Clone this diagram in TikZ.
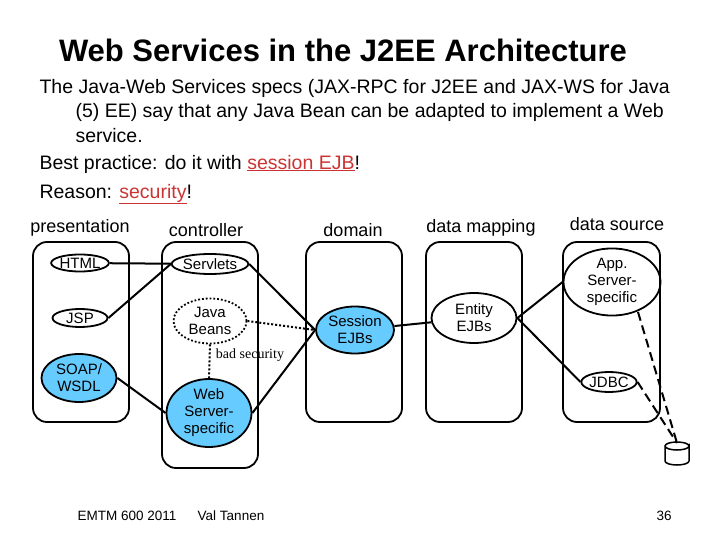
\documentclass[tikz,border=0pt]{standalone}
\usepackage{fontspec}
\setmainfont{Liberation Sans}
\newfontfamily\serifx{Liberation Serif}
\usetikzlibrary{shapes.geometric}
\definecolor{fillb}{HTML}{66CCFF}
\definecolor{redt}{HTML}{CC3333}
\begin{document}
\begin{tikzpicture}[x=1pt,y=-1pt,
  box/.style={draw,line width=1.8pt,rounded corners=14pt},
  el/.style={draw,ellipse,line width=1.8pt,inner sep=0pt,align=center,font=\fontsize{15}{17}\selectfont},
  lbl/.style={font=\fontsize{18}{20}\selectfont},
  con/.style={line width=2pt},
  foot/.style={anchor=base,font=\fontsize{13.5}{16}\selectfont},
  body/.style={anchor=west,font=\fontsize{19.5}{22}\selectfont}]
\useasboundingbox (0,0) rectangle (720,540);
\node[font=\bfseries\fontsize{31}{34}\selectfont] (title) at (343,50) {Web Services in the J2EE Architecture};
\node[body] (t1) at (36,88) {The Java-Web Services specs (JAX-RPC for J2EE and JAX-WS for Java};
\node[body] (t2) at (72,112) {(5) EE) say that any Java Bean can be adapted to implement a Web};
\node[body] (t3) at (72,136) {service.};
\node[body] (t4) at (36,164) {Best practice: do it with {\color{redt}\underline{session EJB}}!};
\node[body] (t5) at (36,194) {Reason: {\color{redt}\underline{security}}!};
% boxes
\draw[box] (33,242) rectangle (129,422);
\draw[box] (162,242) rectangle (258,468);
\draw[box] (306,242) rectangle (402,422);
\draw[box] (426,242) rectangle (522,422);
\draw[box] (563,242) rectangle (660,422);
\node[lbl] (lp) at (80,228) {presentation};
\node[lbl] (lc) at (206,230) {controller};
\node[lbl] (ld) at (353,230) {domain};
\node[lbl] (lm) at (481,228) {data mapping};
\node[lbl] (ls) at (617,224) {data source};
% ellipses
\node[el,minimum width=55pt,minimum height=17pt] (html) at (80,263) {HTML};
\node[el,minimum width=75pt,minimum height=20pt] (serv) at (210,264) {Servlets};
\node[el,minimum width=55pt,minimum height=18pt] (jsp) at (80,318) {JSP};
\node[el,dotted,minimum width=73pt,minimum height=45pt] (jb) at (210,321) {Java\\Beans};
\node[el,fill=fillb,minimum width=75pt,minimum height=48pt] (soap) at (79,378) {SOAP/\\WSDL};
\node[el,fill=fillb,minimum width=85pt,minimum height=68pt] (ws) at (209,413) {Web\\Server-\\specific};
\node[el,fill=fillb,minimum width=78pt,minimum height=47pt] (sess) at (355,330) {Session\\EJBs};
\node[el,minimum width=85pt,minimum height=50pt] (ent) at (474,318) {Entity\\EJBs};
\node[el,minimum width=97pt,minimum height=67pt] (app) at (612,282) {App.\\Server-\\specific};
\node[el,minimum width=55pt,minimum height=20pt] (jdbc) at (609,382) {JDBC};
\coordinate (db) at (677,443);
\draw[line width=1.5pt] (665,446) -- (665,461) arc[start angle=180,end angle=360,x radius=12,y radius=-4] -- (689,446)
  arc[start angle=0,end angle=360,x radius=12,y radius=4];
\node[font=\serifx\fontsize{14}{16}\selectfont] (bad) at (250,355) {bad security};
% connectors
\draw[con] (html) -- (serv);
\draw[con] (jsp.east) -- (serv.west);
\draw[con] (serv.east) -- (sess.west);
\draw[con,dotted] (jb.east) -- (sess.west);
\draw[con,dotted] (jb.south) -- (ws.north);
\draw[con] (soap.east) -- (ws.west);
\draw[con] (ws.east) -- (sess.west);
\draw[con] (sess) -- (ent);
\draw[con] (ent.east) -- (app.west);
\draw[con] (ent.east) -- (jdbc.west);
\draw[con,dash pattern=on 9pt off 5pt] (638,312) -- (db);
\draw[con,dash pattern=on 9pt off 5pt] (jdbc.east) -- (db);
% footer
\node[foot] (f1) at (127,520) {EMTM 600 2011};
\node[foot] (f2) at (231,520) {Val Tannen};
\node[foot] (f3) at (664,520) {36};
\end{tikzpicture}
\end{document}
